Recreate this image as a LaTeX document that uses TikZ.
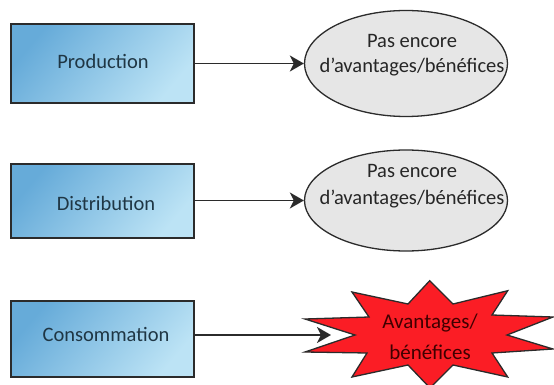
\documentclass[tikz,border=0pt]{standalone}
\usepackage{fontspec}
\setmainfont{Carlito}
\usetikzlibrary{arrows.meta,shapes.geometric}
\definecolor{boxa}{HTML}{66ABD9}
\definecolor{boxb}{HTML}{BCE3F5}
\definecolor{linecol}{HTML}{2B2B2B}
\definecolor{ellfill}{HTML}{E6E6E6}
\definecolor{starred}{HTML}{FB1D25}
\definecolor{boxtext}{HTML}{1F3644}
\tikzset{
  x=1pt,y=-1pt,
  bluebox/.style={draw=linecol,line width=1.5pt,minimum width=183pt,left color=boxa,right color=boxb,shading angle=50,inner sep=0pt},
  boxlabel/.style={inner sep=0pt,text=boxtext,font=\fontsize{20.5}{24}\selectfont},
  grayell/.style={ellipse,draw=linecol,line width=1.3pt,fill=ellfill,inner sep=0pt,minimum width=203pt},
  elllabel/.style={inner sep=0pt,text=black!85,align=center,font=\fontsize{20.5}{25}\selectfont},
  flow/.style={draw=linecol,line width=1.8pt,-{Stealth[length=14pt,width=16pt,inset=4pt]}},
  startext/.style={align=center,text=black!75!red,font=\fontsize{21}{31}\selectfont,inner sep=0pt}
}
\begin{document}
\begin{tikzpicture}
\useasboundingbox (0,0) rectangle (554,385);
\node[bluebox,minimum height=79pt] (b1) at (102.5,63.5) {};
\node[bluebox,minimum height=74pt] (b2) at (102.5,201) {};
\node[bluebox,minimum height=76pt] (b3) at (102.5,339) {};
\node[boxlabel] (l1) at (103,61) {Production};
\node[boxlabel] (l2) at (106,203) {Distribution};
\node[boxlabel] (l3) at (106,334) {Consommation};
\node[grayell,minimum height=106pt] (e1) at (406,63.5) {};
\node[grayell,minimum height=101pt] (e2) at (406,200.5) {};
\node[elllabel] (t1) at (412,55.5) {Pas encore\\d’avantages/bénéfices};
\node[elllabel] (t2) at (412,186) {Pas encore\\[2pt]d’avantages/bénéfices};
\filldraw[draw=linecol,line width=1.3pt,fill=starred]
 (429.7,280.7)--(453,304)--(507.7,290.7)--(492,315)--(553,317)--(507,335)--(553,349)--(492,353)--(507.7,377)--(453,365)--(430,388)--(408,365)--(352,377)--(367,353)--(305,352)--(355,335)--(305,319)--(369,317)--(352,292)--(408,304)--cycle;
\node[startext] (s) at (430,337) {Avantages/\\bénéfices};
\coordinate (t3) at (331,335);
\draw[flow] (b1.east |- e1.west) -- (e1.west);
\draw[flow] (b2.east |- e2.west) -- (e2.west);
\draw[flow] (b3.east |- t3) -- (t3);
\end{tikzpicture}
\end{document}
